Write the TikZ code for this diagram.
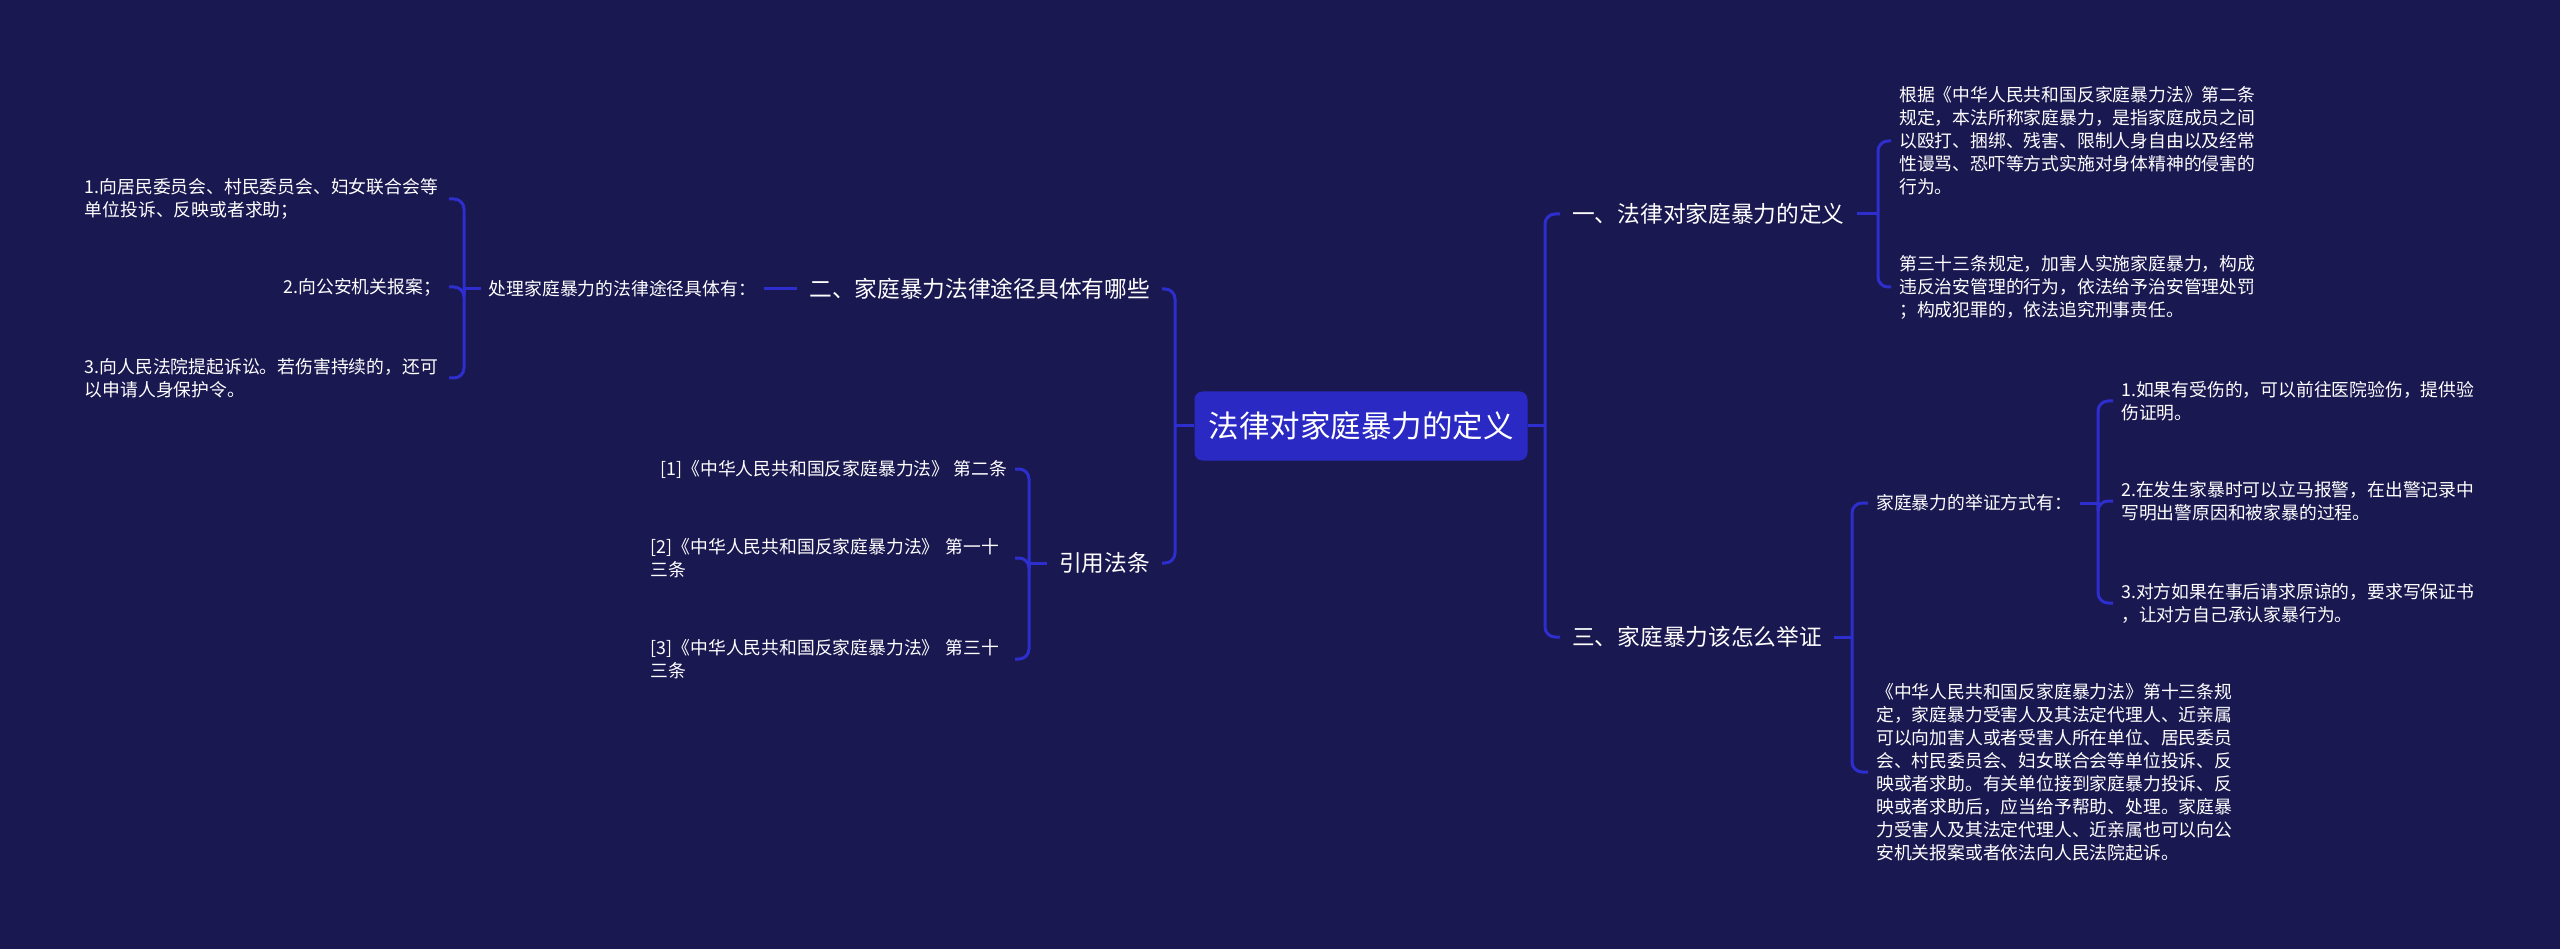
\documentclass[tikz,border=0pt]{standalone}
\usepackage{fontspec}
\setmainfont{Noto Sans CJK SC}
\definecolor{bgc}{HTML}{1A1850}
\definecolor{boxc}{HTML}{2A29C4}
\definecolor{linec}{HTML}{2E2ECF}
\begin{document}
\begin{tikzpicture}[x=1pt,y=-1pt,
  rootbox/.style={fill=boxc, rounded corners=8pt, text=white, font=\fontsize{30.5}{36}\selectfont, minimum width=333pt, minimum height=69pt, inner sep=0pt},
  lvlone/.style={text=white, font=\fontsize{22.7}{28}\selectfont, inner xsep=12pt, inner ysep=4pt},
  leaf/.style={text=white, font=\fontsize{17.8}{23}\selectfont, inner xsep=8pt, inner ysep=3pt, align=left},
  wrapped/.style={leaf, text width=356pt},
  link/.style={draw=linec, line width=3pt, rounded corners=10pt}]
\fill[bgc] (0,0) rectangle (2560,949);
\useasboundingbox (0,0) rectangle (2560,949);

% root
\node[rootbox] (root) at (1361,426) {法律对家庭暴力的定义};

% right side level 1
\node[lvlone, anchor=west] (n1) at (1560,214) {一、法律对家庭暴力的定义};
\node[lvlone, anchor=west] (n3) at (1560,637) {三、家庭暴力该怎么举证};

% left side level 1
\node[lvlone, anchor=east] (n2) at (1162,289) {二、家庭暴力法律途径具体有哪些};
\node[lvlone, anchor=east] (n4) at (1162,563) {引用法条};

% children of n1
\node[wrapped, anchor=west] (c11) at (1891,141) {根据《中华人民共和国反家庭暴力法》第二条\\规定，本法所称家庭暴力，是指家庭成员之间\\以殴打、捆绑、残害、限制人身自由以及经常\\性谩骂、恐吓等方式实施对身体精神的侵害的\\行为。};
\node[wrapped, anchor=west] (c12) at (1891,287) {第三十三条规定，加害人实施家庭暴力，构成\\违反治安管理的行为，依法给予治安管理处罚\\；构成犯罪的，依法追究刑事责任。};

% children of n3
\node[leaf, anchor=west] (c31) at (1868,503) {家庭暴力的举证方式有：};
\node[wrapped, anchor=west] (c32) at (1868,772) {《中华人民共和国反家庭暴力法》第十三条规\\定，家庭暴力受害人及其法定代理人、近亲属\\可以向加害人或者受害人所在单位、居民委员\\会、村民委员会、妇女联合会等单位投诉、反\\映或者求助。有关单位接到家庭暴力投诉、反\\映或者求助后，应当给予帮助、处理。家庭暴\\力受害人及其法定代理人、近亲属也可以向公\\安机关报案或者依法向人民法院起诉。};

% children of c31
\node[wrapped, anchor=west] (c311) at (2113,401) {1.如果有受伤的，可以前往医院验伤，提供验\\伤证明。};
\node[wrapped, anchor=west] (c312) at (2113,501) {2.在发生家暴时可以立马报警，在出警记录中\\写明出警原因和被家暴的过程。};
\node[wrapped, anchor=west] (c313) at (2113,603) {3.对方如果在事后请求原谅的，要求写保证书\\，让对方自己承认家暴行为。};

% children of n2
\node[leaf, anchor=east] (c21) at (764,289) {处理家庭暴力的法律途径具体有：};
\node[wrapped, anchor=east] (c211) at (449,199) {1.向居民委员会、村民委员会、妇女联合会等\\单位投诉、反映或者求助；};
\node[leaf, anchor=east] (c212) at (449,287) {2.向公安机关报案；};
\node[wrapped, anchor=east] (c213) at (449,378) {3.向人民法院提起诉讼。若伤害持续的，还可\\以申请人身保护令。};

% children of n4
\node[leaf, anchor=east] (c41) at (1015,469) {[1]《中华人民共和国反家庭暴力法》 第二条};
\node[wrapped, anchor=east] (c42) at (1015,558) {[2]《中华人民共和国反家庭暴力法》 第一十\\三条};
\node[wrapped, anchor=east] (c43) at (1015,659) {[3]《中华人民共和国反家庭暴力法》 第三十\\三条};

% junction coordinates
\coordinate (tr) at (1545,426);
\coordinate (tl) at (1175,426);
\coordinate (b1) at (1878,214);
\coordinate (b3) at (1852,637);
\coordinate (b31) at (2098,503);
\coordinate (b21) at (464,289);
\coordinate (b4) at (1029,563);

% connectors
\draw[link] (root.east) -- (tr);
\draw[link] (tr) |- (n1.west);
\draw[link] (tr) |- (n3.west);
\draw[link] (root.west) -- (tl);
\draw[link] (tl) |- (n2.east);
\draw[link] (tl) |- (n4.east);

\draw[link] (n1.east) -- (b1);
\draw[link] (b1) |- (c11.west);
\draw[link] (b1) |- (c12.west);

\draw[link] (n3.east) -- (b3);
\draw[link] (b3) |- (c31.west);
\draw[link] (b3) |- (c32.west);

\draw[link] (c31.east) -- (b31);
\draw[link] (b31) |- (c311.west);
\draw[link] (b31) |- (c312.west);
\draw[link] (b31) |- (c313.west);

\draw[link] (n2.west) -- (c21.east);
\draw[link] (c21.west) -- (b21);
\draw[link] (b21) |- (c211.east);
\draw[link] (b21) |- (c212.east);
\draw[link] (b21) |- (c213.east);

\draw[link] (n4.west) -- (b4);
\draw[link] (b4) |- (c41.east);
\draw[link] (b4) |- (c42.east);
\draw[link] (b4) |- (c43.east);
\end{tikzpicture}
\end{document}
